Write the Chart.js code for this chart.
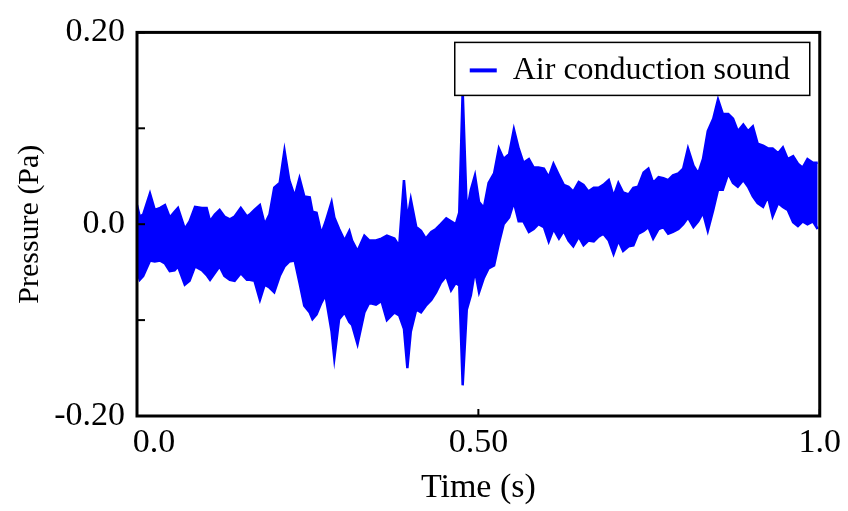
<!DOCTYPE html>
<html>
<head>
<meta charset="utf-8">
<script src="https://cdn.jsdelivr.net/npm/chart.js@4/dist/chart.umd.min.js"></script>
<style>
  html, body { margin:0; padding:0; background:#fff; }
  #wrap { width:848px; height:511px; }
</style>
</head>
<body>
<div id="wrap"><canvas id="chart" width="848" height="511"></canvas></div>
<script>
/* Air conduction sound — pressure envelope (upper / lower per time step) */
const seriesLabel = 'Air conduction sound';
const timeS = [
  0.000,0.004,0.009,0.019,0.026,0.034,0.041,0.048,0.055,0.060,0.070,0.077,0.085,0.095,0.102,0.107,0.114,0.121,0.128,0.136,
  0.143,0.152,0.161,0.165,0.172,0.180,0.187,0.194,0.201,0.209,0.216,0.223,0.231,0.238,0.245,0.253,0.257,0.263,0.270,0.276,
  0.285,0.289,0.296,0.304,0.311,0.315,0.323,0.333,0.340,0.350,0.358,0.366,0.377,0.384,0.391,0.396,0.401,0.409,0.416,0.423,
  0.431,0.438,0.445,0.453,0.460,0.467,0.472,0.477,0.483,0.489,0.495,0.501,0.508,0.515,0.523,0.530,0.537,0.545,0.552,0.559,
  0.566,0.574,0.581,0.588,0.596,0.603,0.610,0.618,0.625,0.632,0.639,0.647,0.654,0.661,0.669,0.676,0.683,0.691,0.698,0.705,
  0.712,0.720,0.727,0.734,0.742,0.749,0.756,0.764,0.771,0.778,0.785,0.793,0.800,0.807,0.815,0.822,0.829,0.836,0.844,0.851,
  0.858,0.866,0.873,0.880,0.888,0.895,0.902,0.909,0.917,0.924,0.931,0.939,0.946,0.953,0.961,0.968,0.975,0.982,0.990,0.997
];
const upperPa = [
  0.020,0.008,0.010,0.032,0.015,0.017,0.020,0.007,0.013,0.017,-0.005,0.003,0.018,0.017,0.017,0.003,0.010,0.015,0.008,0.005,
  0.008,0.017,0.008,0.010,0.015,0.020,0.000,0.010,0.038,0.043,0.077,0.046,0.029,0.048,0.029,0.028,0.013,0.012,-0.010,0.002,
  0.023,0.007,-0.005,-0.017,-0.007,-0.017,-0.028,-0.012,-0.017,-0.017,-0.015,-0.012,-0.015,-0.023,0.046,0.005,0.026,-0.003,-0.007,-0.015,
  -0.008,-0.005,0.000,0.006,0.003,0.000,0.012,0.139,0.013,0.036,0.051,0.023,0.017,0.043,0.053,0.079,0.068,0.073,0.099,0.079,
  0.064,0.068,0.059,0.059,0.058,0.049,0.063,0.051,0.041,0.039,0.034,0.044,0.041,0.034,0.038,0.038,0.041,0.046,0.029,0.043,
  0.033,0.031,0.038,0.039,0.054,0.058,0.043,0.049,0.048,0.046,0.051,0.053,0.058,0.079,0.061,0.053,0.068,0.097,0.110,0.130,
  0.115,0.115,0.110,0.097,0.104,0.097,0.102,0.084,0.082,0.079,0.079,0.074,0.080,0.068,0.071,0.063,0.059,0.068,0.064,0.064
];
const lowerPa = [
  -0.048,-0.058,-0.054,-0.038,-0.039,-0.038,-0.041,-0.049,-0.048,-0.044,-0.063,-0.059,-0.044,-0.048,-0.053,-0.058,-0.051,-0.044,-0.054,-0.058,
  -0.059,-0.051,-0.058,-0.058,-0.059,-0.079,-0.063,-0.066,-0.071,-0.054,-0.044,-0.039,-0.038,-0.061,-0.085,-0.092,-0.099,-0.094,-0.082,-0.074,
  -0.112,-0.140,-0.099,-0.092,-0.102,-0.105,-0.125,-0.092,-0.082,-0.084,-0.080,-0.100,-0.092,-0.095,-0.109,-0.150,-0.112,-0.089,-0.092,-0.085,
  -0.079,-0.071,-0.061,-0.054,-0.069,-0.061,-0.064,-0.168,-0.089,-0.074,-0.048,-0.071,-0.056,-0.046,-0.043,-0.020,0.000,0.007,0.023,0.003,
  0.003,-0.008,-0.005,0.000,-0.003,-0.018,-0.005,-0.015,-0.007,-0.017,-0.023,-0.013,-0.022,-0.017,-0.018,-0.013,-0.010,-0.017,-0.031,-0.017,
  -0.028,-0.023,-0.022,-0.010,-0.007,-0.003,-0.015,-0.005,-0.003,-0.010,-0.008,-0.005,0.000,0.007,-0.003,0.003,0.012,-0.007,0.015,0.036,
  0.036,0.053,0.043,0.039,0.046,0.039,0.029,0.022,0.018,0.029,0.008,0.022,0.018,0.015,0.002,-0.002,0.003,0.000,0.003,-0.005
];
// leading no-break spaces nudge the first label right, as in the original
const xTickLabels = { '0': '\u00a0\u00a0\u00a0\u00a00.0', '5': '0.50', '10': '1.0' };
const yTickLabels = { '2': '0.20', '0': '0.0', '-2': '-0.20' };

const FONT = "'Liberation Serif', 'Times New Roman', serif";
const BLUE = '#0000ff';

function toPoints(vals){
  return timeS.map(function(t, i){ return { x: t, y: vals[i] }; });
}

/* frame, inward ticks and the boxed legend */
const framePlugin = {
  id: 'frame',
  afterDatasetsDraw(chart){
    const { ctx, chartArea: a, scales } = chart;
    ctx.save();
    ctx.strokeStyle = '#000';
    ctx.lineWidth = 2;
    // inward tick marks
    scales.y.ticks.forEach(function(t){
      const py = scales.y.getPixelForValue(t.value);
      ctx.beginPath(); ctx.moveTo(a.left, py); ctx.lineTo(a.left + 8, py); ctx.stroke();
    });
    scales.x.ticks.forEach(function(t){
      const px = scales.x.getPixelForValue(t.value);
      ctx.beginPath(); ctx.moveTo(px, a.bottom); ctx.lineTo(px, a.bottom - 7); ctx.stroke();
    });
    ctx.lineWidth = 3;
    ctx.strokeRect(a.left, a.top, a.right - a.left, a.bottom - a.top);

    // legend
    const bx = a.right - 365, by = a.top + 10, bw = 355, bh = 53;
    ctx.fillStyle = '#fff';
    ctx.fillRect(bx, by, bw, bh);
    ctx.lineWidth = 1.5;
    ctx.strokeRect(bx, by, bw, bh);
    ctx.strokeStyle = BLUE;
    ctx.lineWidth = 4;
    ctx.beginPath(); ctx.moveTo(bx + 15, by + 28); ctx.lineTo(bx + 42, by + 28); ctx.stroke();
    ctx.fillStyle = '#000';
    ctx.font = '32px ' + FONT;
    ctx.textBaseline = 'middle';
    ctx.fillText(chart.data.datasets[0].label, bx + 58, by + 28);
    ctx.restore();
  }
};

new Chart(document.getElementById('chart'), {
  type: 'line',
  data: {
    datasets: [{
      label: seriesLabel,
      data: toPoints(upperPa),
      borderColor: BLUE,
      borderWidth: 2.5,
      pointRadius: 0,
      tension: 0,
      fill: false
    }, {
      label: seriesLabel + ' (lower)',
      data: toPoints(lowerPa),
      borderColor: BLUE,
      backgroundColor: BLUE,
      borderWidth: 2.5,
      pointRadius: 0,
      tension: 0,
      fill: '-1'
    }]
  },
  options: {
    responsive: false,
    animation: false,
    layout: { padding: { top: 24, right: 26, left: 0, bottom: 0 } },
    plugins: { legend: { display: false }, tooltip: { enabled: false } },
    scales: {
      x: {
        type: 'linear', min: 0, max: 1,
        afterFit: function(s){ s.height = 95; },
        grid: { display: false, drawTicks: false },
        border: { display: false },
        ticks: {
          stepSize: 0.5, padding: 7, color: '#000',
          font: { family: FONT, size: 34 },
          callback: function(v){ return xTickLabels[String(Math.round(v * 10))] || ''; }
        },
        title: { display: true, text: 'Time (s)', color: '#000', font: { family: FONT, size: 34 }, padding: { top: 0, bottom: 3 } }
      },
      y: {
        min: -0.2, max: 0.2,
        afterFit: function(s){ s.width = 137; },
        grid: { display: false, drawTicks: false },
        border: { display: false },
        ticks: {
          stepSize: 0.1, padding: 12, color: '#000',
          font: { family: FONT, size: 34 },
          callback: function(v){ return yTickLabels[String(Math.round(v * 10))] || ''; }
        },
        title: { display: true, text: 'Pressure (Pa)', color: '#000', font: { family: FONT, size: 30 }, padding: { top: 12, bottom: 0 } }
      }
    }
  },
  plugins: [framePlugin]
});
</script>
</body>
</html>
